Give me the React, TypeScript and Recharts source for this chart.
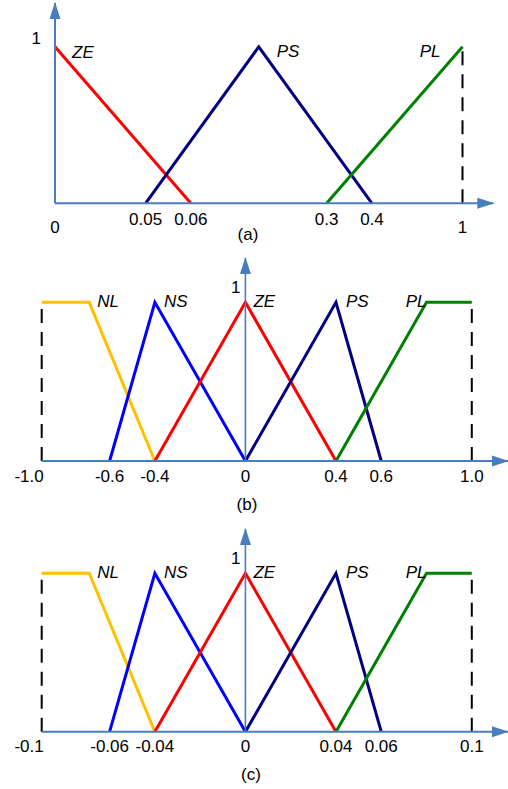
import { LineChart, Line, XAxis, YAxis, ReferenceLine, ReferenceDot } from 'recharts'

// (a) the x axis is not to scale: x values are the drawn slots, labels are what is printed
const aTickPos = [0, 2, 3, 6, 7, 9]
const aTickLabels = ['0', '0.05', '0.06', '0.3', '0.4', '1']
const aZE = [{ x: 0, y: 1 }, { x: 3, y: 0 }]
const aPS = [{ x: 2, y: 0 }, { x: 4.5, y: 1 }, { x: 7, y: 0 }]
const aPL = [{ x: 6, y: 0 }, { x: 9, y: 1 }]
const aDashX = [9]

// (b) and (c) are drawn on the same layout, only the printed tick labels differ
const bcTickPos = [-0.9, -0.6, -0.4, 0, 0.4, 0.6, 1.0]
const bTickLabels = ['-1.0', '-0.6', '-0.4', '0', '0.4', '0.6', '1.0']
const cTickLabels = ['-0.1', '-0.06', '-0.04', '0', '0.04', '0.06', '0.1']
const bcNL = [{ x: -0.9, y: 1 }, { x: -0.69, y: 1 }, { x: -0.4, y: 0 }]
const bcNS = [{ x: -0.6, y: 0 }, { x: -0.4, y: 1 }, { x: 0, y: 0 }]
const bcZE = [{ x: -0.4, y: 0 }, { x: 0, y: 1 }, { x: 0.4, y: 0 }]
const bcPS = [{ x: 0, y: 0 }, { x: 0.4, y: 1 }, { x: 0.6, y: 0 }]
const bcPL = [{ x: 0.4, y: 0 }, { x: 0.8, y: 1 }, { x: 1.0, y: 1 }]
const bcDashX = [-0.9, 1.0]

const FONT = 'Arial, "Liberation Sans", Helvetica, sans-serif'
const FS = 17
const AXIS = '#4a7ebb'
const RED = '#ff0000'
const NAVY = '#000080'
const GREEN = '#008000'
const BLUE = '#0000ff'
const GOLD = '#ffc000'
const Y_TOP = 1.28

type Pt = { x: number; y: number }
type Series = {
  name: string
  data: Pt[]
  color: string
  at: number
  dx: number
  dy: number
  anchor?: 'start' | 'end'
}

const aSeries: Series[] = [
  { name: 'ZE', data: aZE, color: RED, at: 0, dx: 17, dy: 11 },
  { name: 'PS', data: aPS, color: NAVY, at: 1, dx: 18, dy: 10 },
  { name: 'PL', data: aPL, color: GREEN, at: 1, dx: -22, dy: 10, anchor: 'end' },
]

const bcSeries: Series[] = [
  { name: 'NL', data: bcNL, color: GOLD, at: 1, dx: 8, dy: 5 },
  { name: 'NS', data: bcNS, color: BLUE, at: 1, dx: 9, dy: 5 },
  { name: 'ZE', data: bcZE, color: RED, at: 1, dx: 8, dy: 5 },
  { name: 'PS', data: bcPS, color: NAVY, at: 1, dx: 10, dy: 5 },
  { name: 'PL', data: bcPL, color: GREEN, at: 1, dx: 0, dy: 5, anchor: 'end' },
]

const arrowRight = (p: any) => (
  <path
    d={`M${p.cx + 1},${p.cy} L${p.cx - 16},${p.cy - 5.5} L${p.cx - 16},${p.cy + 5.5} Z`}
    fill={AXIS}
  />
)

const arrowUp = (p: any) => (
  <path
    d={`M${p.cx},${p.cy - 1} L${p.cx - 5.5},${p.cy + 16} L${p.cx + 5.5},${p.cy + 16} Z`}
    fill={AXIS}
  />
)

interface PanelProps {
  top: number
  height: number
  margin: { top: number; right: number; bottom: number; left: number }
  xDomain: [number, number]
  ticks: number[]
  labels: string[]
  series: Series[]
  dashX: number[]
  tickDy: number
  endDrop: number
  firstEnd: boolean
  oneDx: number
  oneDy: number
  yAxisWidth: number
}

function Panel(props: PanelProps) {
  const { ticks, labels } = props
  const last = ticks.length - 1

  const renderTick = (t: any) => {
    const i = t.index
    const isEnd = i === 0 || i === last
    const anchor = props.firstEnd && i === 0 ? 'end' : 'middle'
    return (
      <text
        x={t.x + (anchor === 'end' ? 2 : 0)}
        y={t.y + props.tickDy + (isEnd ? props.endDrop : 0)}
        textAnchor={anchor}
        fontFamily={FONT}
        fontSize={FS}
        fill="#000"
      >
        {labels[i]}
      </text>
    )
  }

  return (
    <div style={{ position: 'absolute', left: 0, top: props.top }}>
      <LineChart width={508} height={props.height} margin={props.margin}>
        <XAxis
          type="number"
          dataKey="x"
          domain={props.xDomain}
          ticks={ticks}
          interval={0}
          height={30}
          axisLine={false}
          tickLine={false}
          tickSize={0}
          tickMargin={0}
          tick={renderTick}
        />
        <YAxis type="number" domain={[0, Y_TOP]} hide />

        {props.dashX.map((x) => (
          <ReferenceLine
            key={'d' + x}
            segment={[
              { x, y: 0 },
              { x, y: 1 },
            ]}
            stroke="#000"
            strokeWidth={2}
            strokeDasharray="14 9"
          />
        ))}

        {props.series.map((s) => (
          <Line
            key={s.name}
            data={s.data}
            dataKey="y"
            type="linear"
            stroke={s.color}
            strokeWidth={3}
            dot={false}
            activeDot={false}
            isAnimationActive={false}
          />
        ))}

        <ReferenceLine y={0} stroke={AXIS} strokeWidth={2} />
        <ReferenceLine x={0} stroke={AXIS} strokeWidth={props.yAxisWidth} />
        <ReferenceDot x={props.xDomain[1]} y={0} r={0} shape={arrowRight} />
        <ReferenceDot x={0} y={Y_TOP} r={0} shape={arrowUp} />

        <ReferenceDot
          x={0}
          y={1}
          r={0}
          shape={(p: any) => (
            <text
              x={p.cx + props.oneDx}
              y={p.cy + props.oneDy}
              textAnchor="end"
              fontFamily={FONT}
              fontSize={FS}
              fill="#000"
            >
              1
            </text>
          )}
        />

        {props.series.map((s) => (
          <ReferenceDot
            key={'l' + s.name}
            x={s.data[s.at].x}
            y={s.data[s.at].y}
            r={0}
            shape={(p: any) => (
              <text
                x={p.cx + s.dx}
                y={p.cy + s.dy}
                textAnchor={s.anchor ?? 'start'}
                fontFamily={FONT}
                fontSize={FS}
                fontStyle="italic"
                fill="#000"
              >
                {s.name}
              </text>
            )}
          />
        ))}
      </LineChart>
    </div>
  )
}

export default function App() {
  return (
    <div
      style={{
        position: 'absolute',
        left: 0,
        top: 0,
        width: 508,
        height: 789,
        overflow: 'hidden',
        background: '#fff',
      }}
    >
      <Panel
        top={0}
        height={250}
        margin={{ top: 3, right: 14.7, bottom: 16.7, left: 55 }}
        xDomain={[0, 9.68]}
        ticks={aTickPos}
        labels={aTickLabels}
        series={aSeries}
        dashX={aDashX}
        tickDy={22}
        endDrop={8}
        firstEnd={false}
        oneDx={-14}
        oneDy={-2.4}
        yAxisWidth={2}
      />
      <Panel
        top={250}
        height={270}
        margin={{ top: 7.9, right: 0, bottom: 29, left: 41.7 }}
        xDomain={[-0.9, 1.16]}
        ticks={bcTickPos}
        labels={bTickLabels}
        series={bcSeries}
        dashX={bcDashX}
        tickDy={20.7}
        endDrop={0}
        firstEnd={true}
        oneDx={-5}
        oneDy={-9}
        yAxisWidth={1.6}
      />
      <Panel
        top={520}
        height={268}
        margin={{ top: 8.9, right: 0, bottom: 26.3, left: 41.7 }}
        xDomain={[-0.9, 1.16]}
        ticks={bcTickPos}
        labels={cTickLabels}
        series={bcSeries}
        dashX={bcDashX}
        tickDy={20.7}
        endDrop={0}
        firstEnd={true}
        oneDx={-5}
        oneDy={-9}
        yAxisWidth={1.6}
      />
      <svg
        width={508}
        height={789}
        style={{ position: 'absolute', left: 0, top: 0, pointerEvents: 'none' }}
      >
        <g fontFamily={FONT} fontSize={FS} fill="#000" textAnchor="middle">
          <text x={248} y={240}>(a)</text>
          <text x={247} y={509.5}>(b)</text>
          <text x={251} y={780}>(c)</text>
        </g>
      </svg>
    </div>
  )
}
